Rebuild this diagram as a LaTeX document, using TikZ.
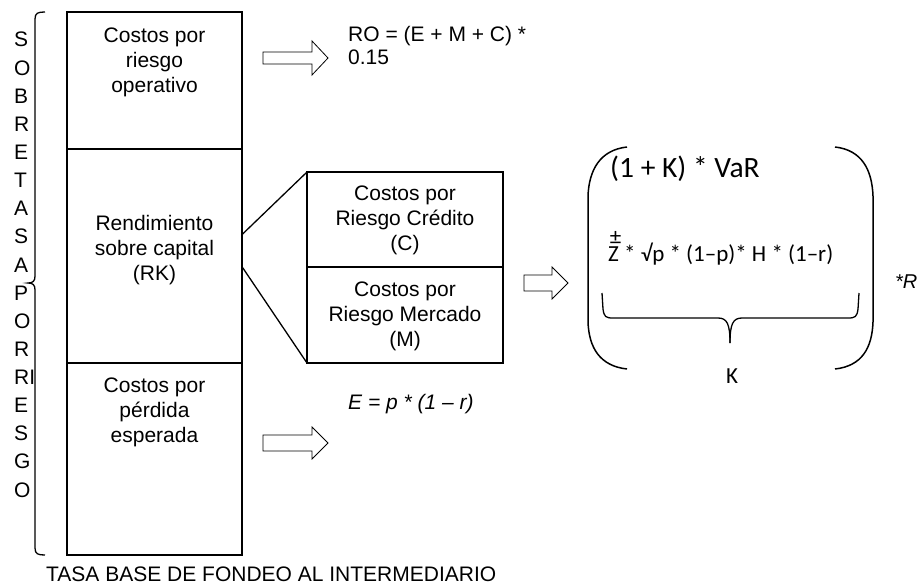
\documentclass[tikz,border=0pt]{standalone}
\usepackage{fontspec}
\setmainfont{Liberation Sans}
\newfontfamily\carlito{Carlito}
\usetikzlibrary{calc}
\begin{document}
\begin{tikzpicture}[x=1pt,y=-1pt,
  box/.style={draw, line width=1.6pt, inner sep=0pt, outer sep=0pt},
  txt/.style={align=center, font=\fontsize{21}{25}\selectfont, inner sep=0pt},
  plain/.style={font=\fontsize{21}{23}\selectfont, inner sep=0pt, align=left},
  letter/.style={font=\fontsize{21}{25}\selectfont, inner sep=0pt},
  link/.style={line width=1.3pt},
  blockarrow/.style={draw, line width=0.8pt, fill=white, line join=miter},
  paren/.style={line width=1.5pt},
  brace/.style={line width=1.3pt}
]
\useasboundingbox (0,0) rectangle (923,586);
\fill[white] (0,0) rectangle (923,586);

% left bracket
\draw[brace] (45,12) .. controls (38,12) and (35,13) .. (35,19) -- (35,276)
  .. controls (35,281) and (33,283) .. (28,283)
  .. controls (33,283) and (35,285) .. (35,290) -- (35,548)
  .. controls (35,554) and (38,555) .. (45,555);

% vertical letters
\foreach \l [count=\i from 0] in {S,O,B,R,E,T,A,S,A,P,O,R,RI,E,S,G,O}
  \node[letter, anchor=base west] (v\i) at (14,{47+28.125*\i}) {\l};

% main column
\node[box, minimum width=175pt, minimum height=137pt] (ro) at (154.5,80.5) {};
\node[box, minimum width=175pt, minimum height=214pt] (rk) at (154.5,256) {};
\node[box, minimum width=175pt, minimum height=192pt] (pe) at (154.5,459) {};
\node[txt] (rotxt) at (154.5,62) {Costos por\\riesgo\\operativo};
\node[txt] (rktxt) at (154.5,250) {Rendimiento\\sobre capital\\(RK)};
\node[txt] (petxt) at (154.5,412) {Costos por\\pérdida\\esperada};

% C and M boxes
\node[box, minimum width=196pt, minimum height=95pt] (cb) at (405,219.5) {};
\node[box, minimum width=196pt, minimum height=96pt] (mb) at (405,315) {};
\node[txt] (cbtxt) at (405,220) {Costos por\\Riesgo Crédito\\(C)};
\node[txt] (mbtxt) at (405,316) {Costos por\\Riesgo Mercado\\(M)};

\draw[link] ($(rk.north east)!0.40!(rk.south east)$) -- (cb.north west);
\draw[link] ($(rk.north east)!0.55!(rk.south east)$) -- (mb.south west);

% block arrows
\draw[blockarrow] (263,52) -- (312,52) -- (312,41) -- (328,58) -- (312,75) -- (312,64) -- (263,64) -- cycle;
\draw[blockarrow] (524,275) -- (552,275) -- (552,267) -- (568,283) -- (552,299) -- (552,291) -- (524,291) -- cycle;
\draw[blockarrow] (263,435) -- (312,435) -- (312,427) -- (328,443) -- (312,459) -- (312,451) -- (263,451) -- cycle;

% formulas
\node[plain, anchor=base west] (rof) at (348,42) {RO = (E + M + C) *};
\node[plain, anchor=base west] (rof2) at (348,65) {0.15};
\node[plain, anchor=base west] (ef) at (348,409) {\itshape E = p * (1 – r)};

% big parentheses
\draw[paren] (627,147) .. controls (600,150) and (589,170) .. (588,196) -- (588,322)
  .. controls (589,348) and (600,366) .. (627,369);
\draw[paren] (835,147) .. controls (862,150) and (872,170) .. (873,196) -- (873,322)
  .. controls (872,348) and (862,366) .. (835,369);

\node[inner sep=0pt, anchor=base west, font=\carlito\fontsize{29.5}{34}\selectfont] (var) at (610,177) {(1 + K) * VaR};
\node[inner sep=0pt, anchor=base, font=\carlito\fontsize{23}{26}\selectfont] (pm) at (615.5,244) {±};
\node[inner sep=0pt, anchor=base west, font=\carlito\fontsize{23}{27}\selectfont] (zf) at (608,261) {Z * √p * (1–p)* H * (1–r)};

% under brace
\draw[brace] (602,293) -- (603,309) .. controls (604,317) and (606,318) .. (613,318) -- (718,318)
  .. controls (727,318) and (730,324) .. (730,343);
\draw[brace] (859,293) -- (858,309) .. controls (857,317) and (855,318) .. (848,318) -- (742,318)
  .. controls (733,318) and (730,324) .. (730,343);
\node[inner sep=0pt, font=\carlito\fontsize{23}{26}\selectfont] (kk) at (732,376) {K};
\node[inner sep=0pt, anchor=base west, font=\itshape\fontsize{20}{24}\selectfont] (rr) at (895,288) {*R};

% bottom label
\node[plain, anchor=base west] (base) at (46,581) {TASA BASE DE FONDEO AL INTERMEDIARIO};
\end{tikzpicture}
\end{document}
